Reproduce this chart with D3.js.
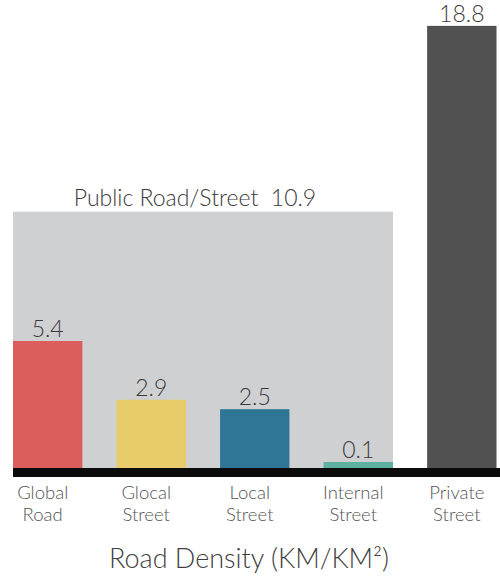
<!DOCTYPE html>
<html>
<head>
<meta charset="utf-8">
<script src="https://cdn.jsdelivr.net/npm/d3@7"></script>
<style>
  html, body { margin: 0; padding: 0; background: #fff; }
  svg { display: block; font-family: Lato, "Open Sans", sans-serif; font-weight: 300; }
</style>
</head>
<body>
<svg id="chart" width="500" height="579"></svg>
<script>
// Road density by road type (km of road per km² of area)
const categories = ["Global Road", "Glocal Street", "Local Street", "Internal Street", "Private Street"];
const labelLines = [["Global", "Road"], ["Glocal", "Street"], ["Local", "Street"], ["Internal", "Street"], ["Private", "Street"]];
const values = [5.4, 2.9, 2.5, 0.1, 18.8];
const colors = ["#dc5e5c", "#e8cb6b", "#2e7596", "#5eb0a0", "#505150"];

// Public roads/streets group (first four categories) and its total
const publicGroup = ["Global Road", "Glocal Street", "Local Street", "Internal Street"];
const publicLabel = "Public Road/Street";
const publicTotal = 10.9;

const axisTitle = "Road Density (KM/KM²)";

const svg = d3.select("#chart");
const baseY = 468;

const x = d3.scaleBand()
  .domain(categories)
  .range([13, 496.5])
  .paddingInner(0.33)
  .paddingOuter(0);

const y = d3.scaleLinear()
  .domain([0, 19.9])
  .range([baseY, 0]);

// Gray panel spanning the public street group
const gx0 = x(publicGroup[0]);
const gx1 = x(publicGroup[publicGroup.length - 1]) + x.bandwidth();
svg.append("rect")
  .attr("x", gx0)
  .attr("y", y(publicTotal))
  .attr("width", gx1 - gx0)
  .attr("height", baseY - y(publicTotal))
  .attr("fill", "#cfd0d2");

svg.append("text")
  .attr("x", (gx0 + gx1) / 2 - 8)
  .attr("y", y(publicTotal) - 6)
  .attr("text-anchor", "middle")
  .attr("font-size", 23)
  .attr("fill", "#3a3a3a")
  .attr("xml:space", "preserve")
  .text(publicLabel + "  " + publicTotal.toFixed(1));

// Bars
svg.selectAll("rect.bar")
  .data(categories)
  .join("rect")
  .attr("class", "bar")
  .attr("x", d => x(d))
  .attr("width", x.bandwidth())
  .attr("y", (d, i) => Math.min(y(values[i]), baseY - 6))
  .attr("height", (d, i) => Math.max(baseY - y(values[i]), 6))
  .attr("fill", (d, i) => colors[i]);

// Value labels
svg.selectAll("text.val")
  .data(categories)
  .join("text")
  .attr("class", "val")
  .attr("x", d => x(d) + x.bandwidth() / 2)
  .attr("y", (d, i) => Math.min(y(values[i]), baseY - 6) - 4)
  .attr("text-anchor", "middle")
  .attr("font-size", 23)
  .attr("fill", "#3a3a3a")
  .text((d, i) => values[i].toFixed(1));

// Baseline
svg.append("rect")
  .attr("x", 13)
  .attr("y", baseY)
  .attr("width", 500 - 13)
  .attr("height", 9)
  .attr("fill", "#0b0b0b");

// Category labels
const cat = svg.selectAll("text.cat")
  .data(categories)
  .join("text")
  .attr("class", "cat")
  .attr("text-anchor", "middle")
  .attr("font-size", 18.5)
  .attr("fill", "#555");
cat.each(function(d, i) {
  const cx = x(d) + x.bandwidth() / 2 - 5;
  d3.select(this).selectAll("tspan")
    .data(labelLines[i])
    .join("tspan")
    .attr("x", cx)
    .attr("y", (t, j) => 499 + j * 22)
    .text(t => t);
});

// Axis title
svg.append("text")
  .attr("x", 249)
  .attr("y", 568)
  .attr("text-anchor", "middle")
  .attr("font-size", 27)
  .attr("fill", "#404040")
  .text(axisTitle);
</script>
</body>
</html>
